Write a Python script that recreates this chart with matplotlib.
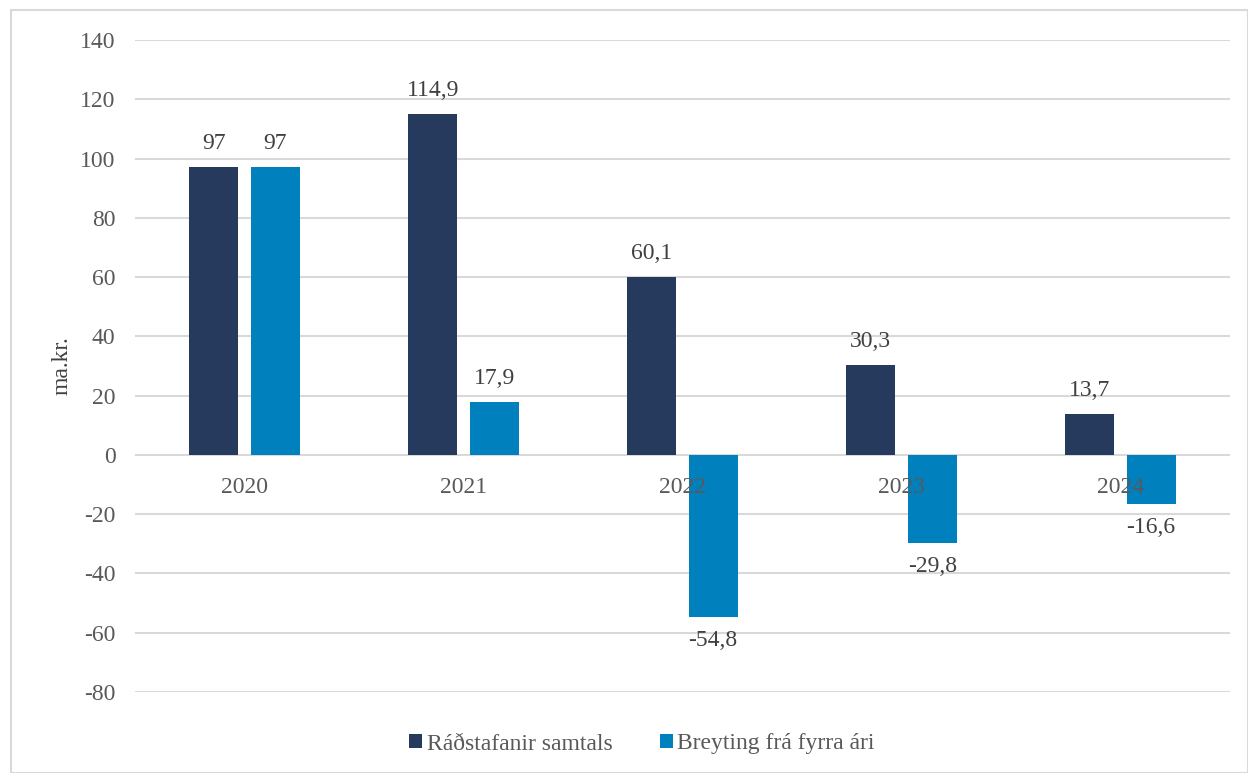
import numpy as np
import matplotlib.pyplot as plt
from matplotlib.patches import Rectangle

years = ["2020", "2021", "2022", "2023", "2024"]
total = [97, 114.9, 60.1, 30.3, 13.7]
change = [97, 17.9, -54.8, -29.8, -16.6]
total_labels = ["97", "114,9", "60,1", "30,3", "13,7"]
change_labels = ["97", "17,9", "-54,8", "-29,8", "-16,6"]
series_names = ["Ráðstafanir samtals", "Breyting frá fyrra ári"]

dark = "#263a5e"
blue = "#0080bd"
txt = "#595959"
grid = "#d9d9d9"

plt.rcParams['font.family'] = ['Liberation Serif', 'DejaVu Serif']
plt.rcParams['axes.unicode_minus'] = False

fig = plt.figure(figsize=(12.48, 7.73), dpi=100)
ax = fig.add_axes([135 / 1248, 81 / 773, 1095 / 1248, 652 / 773])

x = np.arange(len(years))
w = 0.224
off = 0.14
fs = 17

for y in range(-80, 141, 20):
    ax.axhline(y, color=grid, lw=1.5, zorder=0)

b1 = ax.bar(x - off, total, w, color=dark, zorder=1, label=series_names[0])
b2 = ax.bar(x + off, change, w, color=blue, zorder=1, label=series_names[1])

for xi, v, s in zip(x - off, total, total_labels):
    ax.annotate(s, (xi, v), xytext=(0, 17 if v >= 0 else -17),
                textcoords="offset points", ha="center", va="center",
                fontsize=fs, color="#404040", zorder=5)
for xi, v, s in zip(x + off, change, change_labels):
    ax.annotate(s, (xi, v), xytext=(0, 17 if v >= 0 else -17),
                textcoords="offset points", ha="center", va="center",
                fontsize=fs, color="#404040", zorder=5)

ax.set_xlim(-0.5, 4.5)
ax.set_ylim(-80, 140)
ax.set_yticks(range(-80, 141, 20))
ax.set_xticks(x)
ax.set_xticklabels(years)

for sp in ["top", "right", "left"]:
    ax.spines[sp].set_visible(False)
ax.spines["bottom"].set_position(("data", 0))
ax.spines["bottom"].set_visible(False)

ax.tick_params(axis="both", length=0, labelsize=fs, labelcolor=txt)
ax.tick_params(axis="y", pad=14)
ax.tick_params(axis="x", pad=16)
for lab in ax.get_xticklabels():
    lab.set_zorder(6)

ax.set_ylabel("ma.kr.", fontsize=fs, color="#404040")
ax.yaxis.set_label_coords(-0.057, 0.5)

fig.legend(handles=[b1, b2], loc="center", bbox_to_anchor=(642 / 1248, 1 - 744 / 773),
           ncol=2, frameon=False, fontsize=fs, handlelength=0.55, handleheight=0.55,
           handletextpad=0.2, columnspacing=2.0, labelcolor=txt)

fig.patches.append(Rectangle((11 / 1248, 0), 1 - 11 / 1248, 1 - 10 / 773,
                             transform=fig.transFigure, fill=False,
                             edgecolor=grid, lw=1.5))

fig.savefig("out.png", dpi=100)
